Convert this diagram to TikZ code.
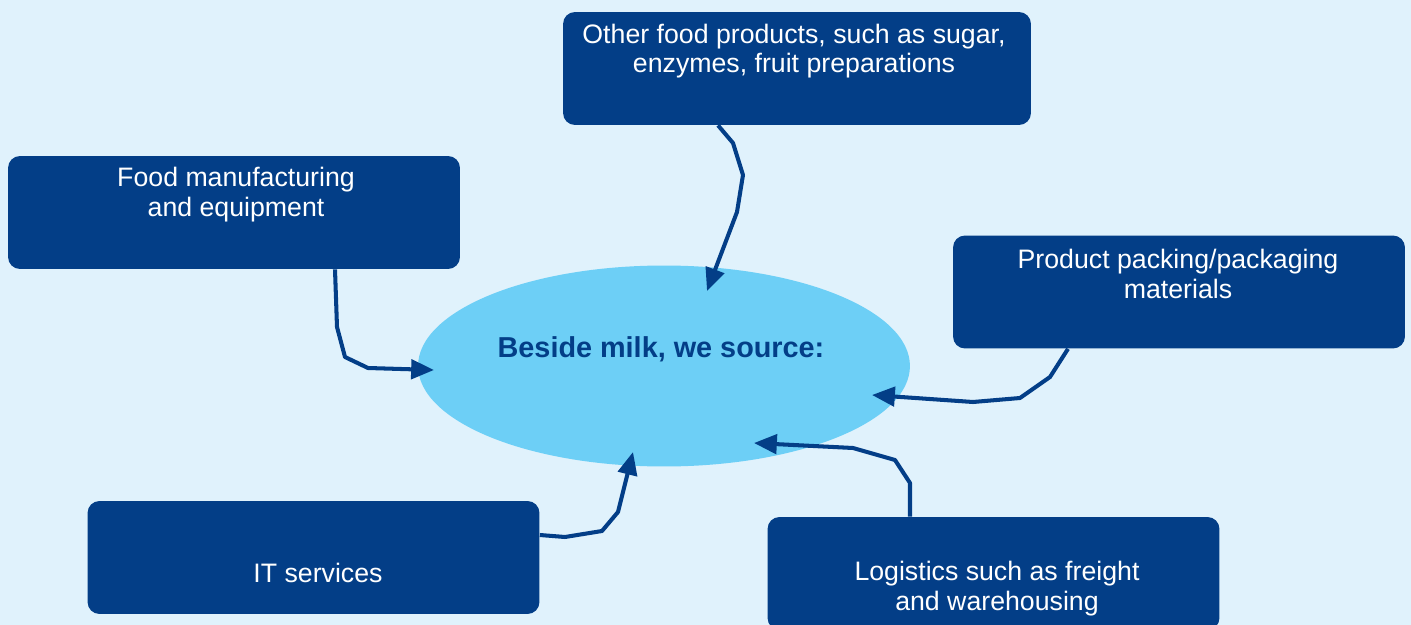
\documentclass[tikz,border=0pt]{standalone}
\usepackage{fontspec}
\setmainfont{Liberation Sans}
\usetikzlibrary{arrows.meta,positioning,calc,shapes.geometric}

\definecolor{skyback}{HTML}{E0F2FC}
\definecolor{navybox}{HTML}{033E87}
\definecolor{milkblue}{HTML}{6DCFF6}

\tikzset{
  supplier/.style={draw=none,fill=navybox,rounded corners=0.24cm,
                   minimum width=9.04cm,minimum height=2.26cm,inner sep=0pt},
  boxtext/.style={text=white,align=center,inner sep=0pt,
                  font=\fontsize{15.2}{17}\selectfont},
  hub/.style={ellipse,fill=milkblue,draw=none,
              minimum width=9.84cm,minimum height=4.02cm,inner sep=0pt},
  hubtext/.style={text=navybox,inner sep=0pt,
                  font=\fontsize{16.4}{19}\selectfont\bfseries},
  link/.style={draw=navybox,line width=2.3pt,line join=round,
               -{Triangle[length=13pt,width=11pt]}}
}

\begin{document}
\begin{tikzpicture}[x={(0.02cm,0)},y={(0,-0.02cm)}]
\fill[skyback] (0,0) rectangle (1411,625);
\useasboundingbox (0,0) rectangle (1411,625);

% centre
\node[hub] (milk) at (664,366) {};
\node[hubtext] (milktext) at ($(milk)+(-3,-17)$) {Beside milk, we source:};

% suppliers
\node[supplier,minimum width=9.36cm] (other) at (797,68.5) {};
\node[boxtext] (othertext) at ($(other.north)+(-3,39.5)$)
     {Other food products, such as sugar,\\enzymes, fruit preparations};
\node[supplier] (food) at (234,212.5) {};
\node[boxtext] (foodtext) at ($(food.north)+(2,39)$)
     {Food manufacturing\\and equipment};
\node[supplier] (pack) at (1179,292) {};
\node[boxtext] (packtext) at ($(pack.north)+(-1,38.5)$)
     {Product packing/packaging\\materials};
\node[supplier] (it) at (313.5,557.5) {};
\node[boxtext] (ittext) at ($(it.north)+(4.5,72)$) {IT services};
\node[supplier] (logi) at (993.5,573.5) {};
\node[boxtext] (logitext) at ($(logi.north)+(3.5,71.5)$)
     {Logistics such as freight\\and warehousing};

% arrows
\coordinate (tipother) at (707,291);
\coordinate (tipfood) at (434,370);
\coordinate (tippack) at (872,395);
\coordinate (tipit) at (633,452);
\coordinate (tiplogi) at (754,443);

\draw[link] (718,0 |- other.south) -- (733,143) -- (743,175) -- (737,212)
            -- (tipother);
\draw[link] (335,0 |- food.south) -- (337,327) -- (345,357) -- (368,368)
            -- (tipfood);
\draw[link] (1068,0 |- pack.south) -- (1050,377) -- (1020,398) -- (973,402)
            -- (tippack);
\draw[link] (it.east |- 0,535) -- (565,537) -- (602,531) -- (618,512)
            -- (tipit);
\draw[link] (910,0 |- logi.north) -- (910,483) -- (895,460) -- (853,448)
            -- (tiplogi);
\end{tikzpicture}
\end{document}
